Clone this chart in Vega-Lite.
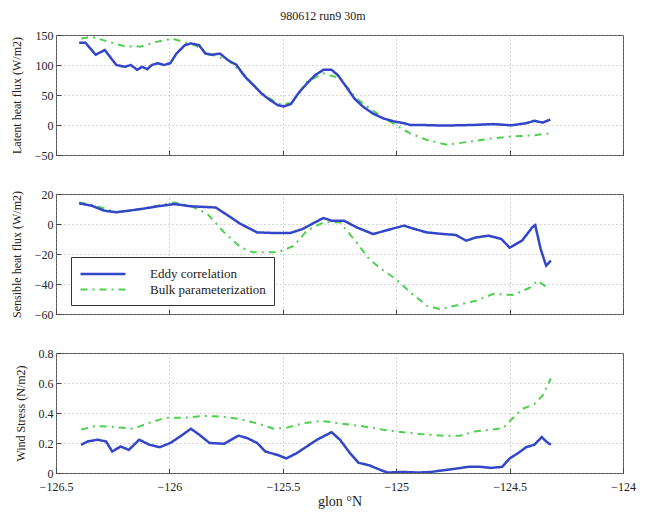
{
  "$schema": "https://vega.github.io/schema/vega-lite/v6.json",
  "background": "white",
  "padding": {"left": 9, "top": 9, "right": 5, "bottom": 5},
  "title": {"text": "980612 run9 30m", "anchor": "middle", "font": "Liberation Serif", "fontSize": 12, "fontWeight": "normal", "color": "#222", "offset": 6},
  "config": {
    "view": {"stroke": "#555", "strokeWidth": 1},
    "axis": {"labelFont": "Liberation Serif", "titleFont": "Liberation Serif", "labelFontSize": 12, "titleFontSize": 12, "titleFontWeight": "normal", "labelColor": "#222", "titleColor": "#222", "gridDash": [1, 3], "gridColor": "#999", "gridOpacity": 0.8, "tickColor": "#444", "domain": false, "tickSize": -5, "labelPadding": 8, "labelFlush": false, "format": "~r"},
    "axisY": {"titlePadding": 11},
    "legend": {"orient": "none", "legendX": 15, "legendY": 63, "title": null, "symbolType": "M-1,0H5", "symbolSize": 225, "symbolStrokeWidth": 2.5, "labelFont": "Liberation Serif", "labelFontSize": 13, "labelColor": "#222", "labelOffset": 53, "labelExpr": "datum.label + '\u00a0\u00a0\u00a0\u00a0\u00a0\u00a0\u00a0\u00a0\u00a0\u00a0\u00a0\u00a0\u00a0\u00a0\u00a0\u00a0'", "labelLimit": 400, "strokeColor": "#333", "fillColor": "white", "padding": 8, "rowPadding": 0}
  },
  "datasets": {
    "latent": [
      {"series": "Bulk parameterization", "lon": -126.389, "value": 144}, {"series": "Bulk parameterization", "lon": -126.343, "value": 147}, {"series": "Bulk parameterization", "lon": -126.27, "value": 139}, {"series": "Bulk parameterization", "lon": -126.197, "value": 131}, {"series": "Bulk parameterization", "lon": -126.124, "value": 131}, {"series": "Bulk parameterization", "lon": -126.051, "value": 139}, {"series": "Bulk parameterization", "lon": -125.987, "value": 144}, {"series": "Bulk parameterization", "lon": -125.942, "value": 139}, {"series": "Bulk parameterization", "lon": -125.887, "value": 133}, {"series": "Bulk parameterization", "lon": -125.814, "value": 117}, {"series": "Bulk parameterization", "lon": -125.741, "value": 108}, {"series": "Bulk parameterization", "lon": -125.668, "value": 83}, {"series": "Bulk parameterization", "lon": -125.595, "value": 53}, {"series": "Bulk parameterization", "lon": -125.522, "value": 36}, {"series": "Bulk parameterization", "lon": -125.464, "value": 36}, {"series": "Bulk parameterization", "lon": -125.394, "value": 72}, {"series": "Bulk parameterization", "lon": -125.321, "value": 86}, {"series": "Bulk parameterization", "lon": -125.248, "value": 78}, {"series": "Bulk parameterization", "lon": -125.175, "value": 44}, {"series": "Bulk parameterization", "lon": -125.066, "value": 14}, {"series": "Bulk parameterization", "lon": -125.002, "value": 0}, {"series": "Bulk parameterization", "lon": -124.938, "value": -14}, {"series": "Bulk parameterization", "lon": -124.865, "value": -25}, {"series": "Bulk parameterization", "lon": -124.774, "value": -33}, {"series": "Bulk parameterization", "lon": -124.682, "value": -28}, {"series": "Bulk parameterization", "lon": -124.573, "value": -22}, {"series": "Bulk parameterization", "lon": -124.482, "value": -19}, {"series": "Bulk parameterization", "lon": -124.391, "value": -17}, {"series": "Bulk parameterization", "lon": -124.327, "value": -14},
      {"series": "Eddy correlation", "lon": -126.398, "value": 137}, {"series": "Eddy correlation", "lon": -126.37, "value": 137}, {"series": "Eddy correlation", "lon": -126.325, "value": 117}, {"series": "Eddy correlation", "lon": -126.285, "value": 125}, {"series": "Eddy correlation", "lon": -126.234, "value": 100}, {"series": "Eddy correlation", "lon": -126.197, "value": 97}, {"series": "Eddy correlation", "lon": -126.17, "value": 100}, {"series": "Eddy correlation", "lon": -126.142, "value": 92}, {"series": "Eddy correlation", "lon": -126.12, "value": 97}, {"series": "Eddy correlation", "lon": -126.097, "value": 93}, {"series": "Eddy correlation", "lon": -126.078, "value": 100}, {"series": "Eddy correlation", "lon": -126.051, "value": 103}, {"series": "Eddy correlation", "lon": -126.024, "value": 100}, {"series": "Eddy correlation", "lon": -125.996, "value": 103}, {"series": "Eddy correlation", "lon": -125.969, "value": 119}, {"series": "Eddy correlation", "lon": -125.932, "value": 133}, {"series": "Eddy correlation", "lon": -125.905, "value": 136}, {"series": "Eddy correlation", "lon": -125.869, "value": 133}, {"series": "Eddy correlation", "lon": -125.841, "value": 119}, {"series": "Eddy correlation", "lon": -125.814, "value": 117}, {"series": "Eddy correlation", "lon": -125.777, "value": 119}, {"series": "Eddy correlation", "lon": -125.741, "value": 108}, {"series": "Eddy correlation", "lon": -125.704, "value": 100}, {"series": "Eddy correlation", "lon": -125.668, "value": 81}, {"series": "Eddy correlation", "lon": -125.631, "value": 67}, {"series": "Eddy correlation", "lon": -125.595, "value": 53}, {"series": "Eddy correlation", "lon": -125.558, "value": 42}, {"series": "Eddy correlation", "lon": -125.522, "value": 33}, {"series": "Eddy correlation", "lon": -125.495, "value": 31}, {"series": "Eddy correlation", "lon": -125.464, "value": 35}, {"series": "Eddy correlation", "lon": -125.431, "value": 53}, {"series": "Eddy correlation", "lon": -125.394, "value": 69}, {"series": "Eddy correlation", "lon": -125.358, "value": 83}, {"series": "Eddy correlation", "lon": -125.321, "value": 92}, {"series": "Eddy correlation", "lon": -125.285, "value": 92}, {"series": "Eddy correlation", "lon": -125.257, "value": 83}, {"series": "Eddy correlation", "lon": -125.221, "value": 64}, {"series": "Eddy correlation", "lon": -125.184, "value": 44}, {"series": "Eddy correlation", "lon": -125.148, "value": 31}, {"series": "Eddy correlation", "lon": -125.102, "value": 19}, {"series": "Eddy correlation", "lon": -125.057, "value": 11}, {"series": "Eddy correlation", "lon": -125.011, "value": 6}, {"series": "Eddy correlation", "lon": -124.965, "value": 3}, {"series": "Eddy correlation", "lon": -124.938, "value": 0}, {"series": "Eddy correlation", "lon": -124.883, "value": 0}, {"series": "Eddy correlation", "lon": -124.792, "value": -1}, {"series": "Eddy correlation", "lon": -124.664, "value": 0}, {"series": "Eddy correlation", "lon": -124.573, "value": 1.5}, {"series": "Eddy correlation", "lon": -124.491, "value": -0.5}, {"series": "Eddy correlation", "lon": -124.427, "value": 3}, {"series": "Eddy correlation", "lon": -124.391, "value": 7}, {"series": "Eddy correlation", "lon": -124.354, "value": 4}, {"series": "Eddy correlation", "lon": -124.321, "value": 9}
    ],
    "sensible": [
      {"series": "Bulk parameterization", "lon": -126.398, "value": 14.4}, {"series": "Bulk parameterization", "lon": -126.325, "value": 12.2}, {"series": "Bulk parameterization", "lon": -126.234, "value": 7.8}, {"series": "Bulk parameterization", "lon": -126.124, "value": 10}, {"series": "Bulk parameterization", "lon": -125.978, "value": 14.4}, {"series": "Bulk parameterization", "lon": -125.905, "value": 12}, {"series": "Bulk parameterization", "lon": -125.832, "value": 6.7}, {"series": "Bulk parameterization", "lon": -125.759, "value": -5.6}, {"series": "Bulk parameterization", "lon": -125.686, "value": -15.6}, {"series": "Bulk parameterization", "lon": -125.631, "value": -18.9}, {"series": "Bulk parameterization", "lon": -125.522, "value": -18.9}, {"series": "Bulk parameterization", "lon": -125.449, "value": -14.4}, {"series": "Bulk parameterization", "lon": -125.394, "value": -4.4}, {"series": "Bulk parameterization", "lon": -125.321, "value": 1.1}, {"series": "Bulk parameterization", "lon": -125.248, "value": 1.1}, {"series": "Bulk parameterization", "lon": -125.175, "value": -12.2}, {"series": "Bulk parameterization", "lon": -125.12, "value": -23.3}, {"series": "Bulk parameterization", "lon": -125.066, "value": -30}, {"series": "Bulk parameterization", "lon": -125.002, "value": -36.7}, {"series": "Bulk parameterization", "lon": -124.938, "value": -45.6}, {"series": "Bulk parameterization", "lon": -124.865, "value": -54.4}, {"series": "Bulk parameterization", "lon": -124.81, "value": -56.7}, {"series": "Bulk parameterization", "lon": -124.737, "value": -54.4}, {"series": "Bulk parameterization", "lon": -124.646, "value": -51}, {"series": "Bulk parameterization", "lon": -124.573, "value": -46.7}, {"series": "Bulk parameterization", "lon": -124.482, "value": -47.3}, {"series": "Bulk parameterization", "lon": -124.409, "value": -42.2}, {"series": "Bulk parameterization", "lon": -124.376, "value": -37.8}, {"series": "Bulk parameterization", "lon": -124.336, "value": -42.2},
      {"series": "Eddy correlation", "lon": -126.398, "value": 13.8}, {"series": "Eddy correlation", "lon": -126.343, "value": 12.2}, {"series": "Eddy correlation", "lon": -126.288, "value": 8.9}, {"series": "Eddy correlation", "lon": -126.234, "value": 7.8}, {"series": "Eddy correlation", "lon": -126.179, "value": 8.9}, {"series": "Eddy correlation", "lon": -126.124, "value": 10}, {"series": "Eddy correlation", "lon": -126.051, "value": 11.8}, {"series": "Eddy correlation", "lon": -125.978, "value": 13.3}, {"series": "Eddy correlation", "lon": -125.905, "value": 11.8}, {"series": "Eddy correlation", "lon": -125.796, "value": 11}, {"series": "Eddy correlation", "lon": -125.741, "value": 5.6}, {"series": "Eddy correlation", "lon": -125.686, "value": 0}, {"series": "Eddy correlation", "lon": -125.613, "value": -5.6}, {"series": "Eddy correlation", "lon": -125.54, "value": -6}, {"series": "Eddy correlation", "lon": -125.467, "value": -6}, {"series": "Eddy correlation", "lon": -125.412, "value": -3.3}, {"series": "Eddy correlation", "lon": -125.358, "value": 1.1}, {"series": "Eddy correlation", "lon": -125.321, "value": 4}, {"series": "Eddy correlation", "lon": -125.285, "value": 2.2}, {"series": "Eddy correlation", "lon": -125.23, "value": 2.2}, {"series": "Eddy correlation", "lon": -125.175, "value": -2.2}, {"series": "Eddy correlation", "lon": -125.102, "value": -6.7}, {"series": "Eddy correlation", "lon": -125.047, "value": -4.4}, {"series": "Eddy correlation", "lon": -125.011, "value": -2.9}, {"series": "Eddy correlation", "lon": -124.965, "value": -1.1}, {"series": "Eddy correlation", "lon": -124.92, "value": -3.3}, {"series": "Eddy correlation", "lon": -124.865, "value": -5.6}, {"series": "Eddy correlation", "lon": -124.792, "value": -6.7}, {"series": "Eddy correlation", "lon": -124.737, "value": -7.3}, {"series": "Eddy correlation", "lon": -124.692, "value": -11.1}, {"series": "Eddy correlation", "lon": -124.646, "value": -8.9}, {"series": "Eddy correlation", "lon": -124.591, "value": -7.8}, {"series": "Eddy correlation", "lon": -124.536, "value": -10}, {"series": "Eddy correlation", "lon": -124.5, "value": -15.8}, {"series": "Eddy correlation", "lon": -124.445, "value": -11.1}, {"series": "Eddy correlation", "lon": -124.4, "value": -2.2}, {"series": "Eddy correlation", "lon": -124.387, "value": -0.7}, {"series": "Eddy correlation", "lon": -124.363, "value": -16.7}, {"series": "Eddy correlation", "lon": -124.339, "value": -27.8}, {"series": "Eddy correlation", "lon": -124.318, "value": -24.4}
    ],
    "stress": [
      {"series": "Bulk parameterization", "lon": -126.389, "value": 0.29}, {"series": "Bulk parameterization", "lon": -126.325, "value": 0.313}, {"series": "Bulk parameterization", "lon": -126.252, "value": 0.308}, {"series": "Bulk parameterization", "lon": -126.161, "value": 0.295}, {"series": "Bulk parameterization", "lon": -126.088, "value": 0.335}, {"series": "Bulk parameterization", "lon": -126.015, "value": 0.369}, {"series": "Bulk parameterization", "lon": -125.932, "value": 0.369}, {"series": "Bulk parameterization", "lon": -125.85, "value": 0.38}, {"series": "Bulk parameterization", "lon": -125.768, "value": 0.376}, {"series": "Bulk parameterization", "lon": -125.686, "value": 0.358}, {"series": "Bulk parameterization", "lon": -125.613, "value": 0.331}, {"series": "Bulk parameterization", "lon": -125.54, "value": 0.295}, {"series": "Bulk parameterization", "lon": -125.485, "value": 0.301}, {"series": "Bulk parameterization", "lon": -125.412, "value": 0.331}, {"series": "Bulk parameterization", "lon": -125.33, "value": 0.347}, {"series": "Bulk parameterization", "lon": -125.248, "value": 0.331}, {"series": "Bulk parameterization", "lon": -125.155, "value": 0.313}, {"series": "Bulk parameterization", "lon": -125.084, "value": 0.295}, {"series": "Bulk parameterization", "lon": -125.011, "value": 0.279}, {"series": "Bulk parameterization", "lon": -124.938, "value": 0.267}, {"series": "Bulk parameterization", "lon": -124.865, "value": 0.256}, {"series": "Bulk parameterization", "lon": -124.792, "value": 0.249}, {"series": "Bulk parameterization", "lon": -124.719, "value": 0.249}, {"series": "Bulk parameterization", "lon": -124.646, "value": 0.279}, {"series": "Bulk parameterization", "lon": -124.573, "value": 0.29}, {"series": "Bulk parameterization", "lon": -124.527, "value": 0.301}, {"series": "Bulk parameterization", "lon": -124.491, "value": 0.358}, {"series": "Bulk parameterization", "lon": -124.445, "value": 0.426}, {"series": "Bulk parameterization", "lon": -124.391, "value": 0.46}, {"series": "Bulk parameterization", "lon": -124.354, "value": 0.517}, {"series": "Bulk parameterization", "lon": -124.318, "value": 0.63},
      {"series": "Eddy correlation", "lon": -126.389, "value": 0.188}, {"series": "Eddy correlation", "lon": -126.361, "value": 0.21}, {"series": "Eddy correlation", "lon": -126.316, "value": 0.222}, {"series": "Eddy correlation", "lon": -126.279, "value": 0.21}, {"series": "Eddy correlation", "lon": -126.252, "value": 0.143}, {"series": "Eddy correlation", "lon": -126.215, "value": 0.177}, {"series": "Eddy correlation", "lon": -126.179, "value": 0.154}, {"series": "Eddy correlation", "lon": -126.133, "value": 0.222}, {"series": "Eddy correlation", "lon": -126.088, "value": 0.188}, {"series": "Eddy correlation", "lon": -126.042, "value": 0.172}, {"series": "Eddy correlation", "lon": -125.996, "value": 0.2}, {"series": "Eddy correlation", "lon": -125.951, "value": 0.245}, {"series": "Eddy correlation", "lon": -125.905, "value": 0.295}, {"series": "Eddy correlation", "lon": -125.869, "value": 0.256}, {"series": "Eddy correlation", "lon": -125.823, "value": 0.2}, {"series": "Eddy correlation", "lon": -125.759, "value": 0.195}, {"series": "Eddy correlation", "lon": -125.695, "value": 0.249}, {"series": "Eddy correlation", "lon": -125.659, "value": 0.234}, {"series": "Eddy correlation", "lon": -125.613, "value": 0.2}, {"series": "Eddy correlation", "lon": -125.577, "value": 0.143}, {"series": "Eddy correlation", "lon": -125.522, "value": 0.12}, {"series": "Eddy correlation", "lon": -125.485, "value": 0.097}, {"series": "Eddy correlation", "lon": -125.44, "value": 0.131}, {"series": "Eddy correlation", "lon": -125.394, "value": 0.177}, {"series": "Eddy correlation", "lon": -125.349, "value": 0.222}, {"series": "Eddy correlation", "lon": -125.285, "value": 0.272}, {"series": "Eddy correlation", "lon": -125.248, "value": 0.222}, {"series": "Eddy correlation", "lon": -125.203, "value": 0.131}, {"series": "Eddy correlation", "lon": -125.166, "value": 0.068}, {"series": "Eddy correlation", "lon": -125.12, "value": 0.052}, {"series": "Eddy correlation", "lon": -125.066, "value": 0.018}, {"series": "Eddy correlation", "lon": -125.038, "value": 0.003}, {"series": "Eddy correlation", "lon": -124.974, "value": 0.007}, {"series": "Eddy correlation", "lon": -124.901, "value": 0.003}, {"series": "Eddy correlation", "lon": -124.847, "value": 0.007}, {"series": "Eddy correlation", "lon": -124.792, "value": 0.018}, {"series": "Eddy correlation", "lon": -124.737, "value": 0.029}, {"series": "Eddy correlation", "lon": -124.682, "value": 0.041}, {"series": "Eddy correlation", "lon": -124.628, "value": 0.041}, {"series": "Eddy correlation", "lon": -124.582, "value": 0.034}, {"series": "Eddy correlation", "lon": -124.533, "value": 0.041}, {"series": "Eddy correlation", "lon": -124.5, "value": 0.097}, {"series": "Eddy correlation", "lon": -124.464, "value": 0.131}, {"series": "Eddy correlation", "lon": -124.427, "value": 0.172}, {"series": "Eddy correlation", "lon": -124.391, "value": 0.188}, {"series": "Eddy correlation", "lon": -124.358, "value": 0.24}, {"series": "Eddy correlation", "lon": -124.339, "value": 0.21}, {"series": "Eddy correlation", "lon": -124.318, "value": 0.188}
    ]
  },
  "spacing": 39,
  "bounds": "flush",
  "resolve": {"scale": {"color": "independent", "strokeDash": "independent", "strokeWidth": "independent"}, "legend": {"color": "independent", "strokeDash": "independent", "strokeWidth": "independent"}},
  "vconcat": [
    {
      "width": 567, "height": 120,
      "data": {"name": "latent"},
      "mark": {"type": "line", "clip": true},
      "encoding": {
        "x": {"field": "lon", "type": "quantitative", "scale": {"domain": [-126.5, -124], "nice": false, "zero": false}, "axis": {"values": [-126.5, -126, -125.5, -125, -124.5, -124], "labels": false, "title": null, "grid": true}},
        "y": {"field": "value", "type": "quantitative", "scale": {"domain": [-50, 150], "nice": false, "zero": false}, "axis": {"values": [-50, 0, 50, 100, 150], "title": "Latent heat flux (W/m2)", "grid": true}},
        "color": {"field": "series", "type": "nominal", "scale": {"domain": ["Eddy correlation", "Bulk parameterization"], "range": ["#3346c8", "#4fd04f"]}, "legend": null},
        "strokeDash": {"field": "series", "type": "nominal", "scale": {"domain": ["Eddy correlation", "Bulk parameterization"], "range": [[1, 0], [7, 5, 2, 5]]}, "legend": null},
        "strokeWidth": {"field": "series", "type": "nominal", "scale": {"domain": ["Eddy correlation", "Bulk parameterization"], "range": [2.5, 2]}, "legend": null}
      }
    },
    {
      "width": 567, "height": 120,
      "data": {"name": "sensible"},
      "mark": {"type": "line", "clip": true},
      "encoding": {
        "x": {"field": "lon", "type": "quantitative", "scale": {"domain": [-126.5, -124], "nice": false, "zero": false}, "axis": {"values": [-126.5, -126, -125.5, -125, -124.5, -124], "labels": false, "title": null, "grid": true}},
        "y": {"field": "value", "type": "quantitative", "scale": {"domain": [-60, 20], "nice": false, "zero": false}, "axis": {"values": [-60, -40, -20, 0, 20], "title": "Sensible heat flux (W/m2)", "grid": true}},
        "color": {"field": "series", "type": "nominal", "scale": {"domain": ["Eddy correlation", "Bulk parameterization"], "range": ["#3346c8", "#4fd04f"]}, "legend": {}},
        "strokeDash": {"field": "series", "type": "nominal", "scale": {"domain": ["Eddy correlation", "Bulk parameterization"], "range": [[1, 0], [7, 5, 2, 5]]}, "legend": {}},
        "strokeWidth": {"field": "series", "type": "nominal", "scale": {"domain": ["Eddy correlation", "Bulk parameterization"], "range": [2.5, 2]}, "legend": null}
      }
    },
    {
      "width": 567, "height": 120,
      "data": {"name": "stress"},
      "mark": {"type": "line", "clip": true},
      "encoding": {
        "x": {"field": "lon", "type": "quantitative", "scale": {"domain": [-126.5, -124], "nice": false, "zero": false}, "axis": {"values": [-126.5, -126, -125.5, -125, -124.5, -124], "title": "glon °N", "titleFontSize": 14, "titlePadding": 2, "labelPadding": 13, "grid": true}},
        "y": {"field": "value", "type": "quantitative", "scale": {"domain": [0, 0.8], "nice": false, "zero": false}, "axis": {"values": [0, 0.2, 0.4, 0.6, 0.8], "title": "Wind Stress (N/m2)", "grid": true}},
        "color": {"field": "series", "type": "nominal", "scale": {"domain": ["Eddy correlation", "Bulk parameterization"], "range": ["#3346c8", "#4fd04f"]}, "legend": null},
        "strokeDash": {"field": "series", "type": "nominal", "scale": {"domain": ["Eddy correlation", "Bulk parameterization"], "range": [[1, 0], [7, 5, 2, 5]]}, "legend": null},
        "strokeWidth": {"field": "series", "type": "nominal", "scale": {"domain": ["Eddy correlation", "Bulk parameterization"], "range": [2.5, 2]}, "legend": null}
      }
    }
  ]
}
